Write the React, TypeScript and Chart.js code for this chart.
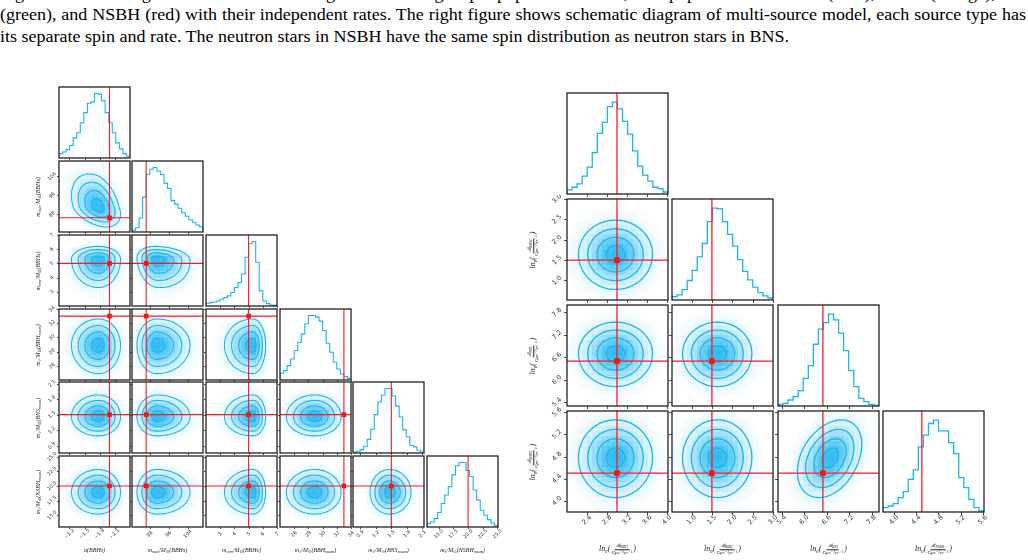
import React, { useEffect, useRef } from "react";
import { Chart, registerables } from "chart.js";
Chart.register(...registerables);

// ================= DATA =================
// Caption lines
const captionLines = [
  "Figure 3: The left figure shows schematic diagram of the single-spin population model, with populations of BBH1 (blue), BBH2 (orange), BNS",
  "(green), and NSBH (red) with their independent rates. The right figure shows schematic diagram of multi-source model, each source type has",
  "its separate spin and rate. The neutron stars in NSBH have the same spin distribution as neutron stars in BNS.",
];

// ---- Left corner plot (single-spin model) ----
const leftSym = ["α", "m", "m", "m", "m", "m"];
const leftSymSub = ["", "max", "min", "1", "1", "1"];
const leftPop = ["BBHs", "BBHs", "BBHs", "BBH", "BNS", "NSBH"];
const leftPopSub = ["", "", "", "mean", "mean", "mean"];
const leftRanges: [number, number][] = [[-2.41, -0.99], [80.5, 110.5], [2.0, 7.0], [24.0, 34.0], [0.76, 2.13], [13.0, 25.1]];
const leftReverse = [true, false, false, false, false, false];
const leftTicks = [[-1.2, -1.5, -1.8, -2.1], [88, 96, 104], [3, 4, 5, 6, 7], [26, 28, 30, 32, 34], [0.9, 1.2, 1.5, 1.8, 2.1], [15, 17.5, 20, 22.5, 25]];
const leftTickText = [["−1.2", "−1.5", "−1.8", "−2.1"], ["88", "96", "104"], ["3", "4", "5", "6", "7"], ["26", "28", "30", "32", "34"], ["0.9", "1.2", "1.5", "1.8", "2.1"], ["15.0", "17.5", "20.0", "22.5", "25.0"]];
const leftTruth = [-2.0, 86.5, 5.0, 33.0, 1.5, 20.0];
// histogram bin counts (20 bins across each axis range, ascending value order)
const histAlpha = [5, 13, 27, 45, 75, 105, 135, 170, 190, 192, 167, 163, 135, 105, 75, 60, 37, 25, 18, 13];
const histMmax = [5, 12, 40, 100, 165, 180, 185, 175, 165, 140, 125, 90, 80, 68, 55, 45, 35, 28, 20, 15];
const histMmin = [8, 10, 12, 15, 20, 25, 30, 40, 55, 70, 95, 145, 185, 192, 130, 45, 15, 7, 3, 2];
const histM1BBH = [20, 28, 43, 63, 88, 113, 138, 168, 193, 193, 188, 176, 148, 110, 83, 53, 33, 18, 10, 5];
const histM1BNS = [3, 5, 10, 20, 40, 70, 113, 150, 170, 190, 190, 168, 138, 106, 68, 48, 23, 18, 8, 3];
const histM1NSBH = [10, 15, 25, 43, 70, 95, 120, 155, 182, 192, 192, 168, 150, 110, 80, 50, 35, 22, 12, 4];
const leftHists = [histAlpha, histMmax, histMmin, histM1BBH, histM1BNS, histM1NSBH];
// posterior shape summaries (mode, lower / upper width) used for the 2D density & contours
const leftMode = [-1.78, 91.0, 5.3, 28.9, 1.46, 18.9];
const leftSigLo = [0.22, 4.2, 1.0, 2.0, 0.185, 1.85];
const leftSigHi = [0.27, 7.0, 0.45, 1.85, 0.21, 1.95];
const leftCorr: [number, number, number][] = [[1, 0, 0.35], [2, 1, -0.1]];

// ---- Right corner plot (multi-source rates) ----
const rightSub = ["BBH1", "BBH2", "BNS", "NSBH"];
const rightRanges: [number, number][] = [[2.0, 4.02], [0.52, 3.0], [5.3, 8.0], [3.8, 5.62]];
const rightTicks = [[2.4, 2.8, 3.2, 3.6, 4.0], [1.0, 1.5, 2.0, 2.5, 3.0], [5.4, 6.0, 6.6, 7.2, 7.8], [4.0, 4.4, 4.8, 5.2, 5.6]];
const rightTickText = [["2.4", "2.8", "3.2", "3.6", "4.0"], ["1.0", "1.5", "2.0", "2.5", "3.0"], ["5.4", "6.0", "6.6", "7.2", "7.8"], ["4.0", "4.4", "4.8", "5.2", "5.6"]];
const rightTruth = [3.0, 1.5, 6.5, 4.5];
const histR0 = [12, 20, 30, 53, 80, 123, 180, 213, 260, 273, 253, 216, 178, 128, 83, 56, 38, 20, 16, 6];
const histR1 = [10, 15, 31, 58, 88, 128, 168, 233, 273, 271, 233, 195, 160, 120, 85, 60, 38, 22, 12, 6];
const histR2 = [5, 8, 18, 28, 46, 83, 121, 185, 230, 250, 275, 258, 218, 166, 106, 58, 23, 13, 5, 2];
const histR3 = [13, 18, 25, 43, 61, 98, 126, 195, 230, 265, 275, 243, 243, 208, 175, 103, 73, 38, 13, 3];
const rightHists = [histR0, histR1, histR2, histR3];
const rightMode = [2.97, 1.64, 6.7, 4.78];
const rightSigLo = [0.37, 0.43, 0.44, 0.36];
const rightSigHi = [0.37, 0.42, 0.42, 0.34];
const rightCorr: [number, number, number][] = [[3, 2, 0.35]];

const contourLevels = [0.5, 1.0, 1.5, 2.0];

// ================= LAYOUT / STYLE =================
const LEFT_X = [59, 132, 206, 280, 353, 427];
const LEFT_Y = [87, 161, 235, 309, 382, 456];
const LEFT_SIZE = 71;
const RIGHT_X = [567, 672, 778, 883];
const RIGHT_Y = [93, 199, 305, 411];
const RIGHT_SIZE = 101;
const PAD_L = 30, PAD_T = 4, PAD_R = 4, PAD_B = 26;
const RGB = "24,180,240";
const BLUE = `rgb(${RGB})`;
const SERIF = '"Liberation Serif", "DejaVu Serif", serif';
const SANS = '"DejaVu Sans", sans-serif';
const CAPTION_SCALE = 1.125;

type Var = {
  range: [number, number]; reverse: boolean; ticks: number[]; tickText: string[];
  truth: number; hist: number[]; mode: number; lo: number; hi: number;
};
type Style = { lw: number; tick: number; font: number; xOff: number; yOff: number; mr: number; tw: number };
type PanelSpec = {
  key: string; kind: "hist" | "2d"; xv: Var; yv: Var; rho: number;
  left: number; top: number; size: number; showX: boolean; showY: boolean; st: Style;
};

const leftStyle: Style = { lw: 1.1, tick: 2, font: 5, xOff: 7, yOff: 7, mr: 3.2, tw: 1.1 };
const rightStyle: Style = { lw: 1.3, tick: 3, font: 6.5, xOff: 8, yOff: 10, mr: 3.8, tw: 1.3 };

function buildVars(ranges: [number, number][], rev: boolean[] | null, ticks: number[][], tt: string[][], truth: number[], hists: number[][], mode: number[], lo: number[], hi: number[]): Var[] {
  return ranges.map((r, i) => ({
    range: r, reverse: rev ? rev[i] : false, ticks: ticks[i], tickText: tt[i], truth: truth[i],
    hist: hists[i], mode: mode[i], lo: lo[i], hi: hi[i],
  }));
}

const leftVars = buildVars(leftRanges, leftReverse, leftTicks, leftTickText, leftTruth, leftHists, leftMode, leftSigLo, leftSigHi);
const rightVars = buildVars(rightRanges, null, rightTicks, rightTickText, rightTruth, rightHists, rightMode, rightSigLo, rightSigHi);

function buildPanels(name: string, vars: Var[], corr: [number, number, number][], X: number[], Y: number[], size: number, st: Style): PanelSpec[] {
  const n = vars.length;
  const out: PanelSpec[] = [];
  for (let r = 0; r < n; r++) {
    for (let c = 0; c <= r; c++) {
      const cc = corr.find((k) => k[0] === r && k[1] === c);
      out.push({
        key: `${name}-${r}-${c}`, kind: r === c ? "hist" : "2d", xv: vars[c], yv: vars[r],
        rho: cc ? cc[2] : 0, left: X[c], top: Y[r], size, showX: r === n - 1, showY: c === 0 && r > 0, st,
      });
    }
  }
  return out;
}

const panels = [
  ...buildPanels("L", leftVars, leftCorr, LEFT_X, LEFT_Y, LEFT_SIZE, leftStyle),
  ...buildPanels("R", rightVars, rightCorr, RIGHT_X, RIGHT_Y, RIGHT_SIZE, rightStyle),
];

function standardize(v: Var, val: number) {
  const d = val - v.mode;
  return d / (d < 0 ? v.lo : v.hi);
}
function density(p: PanelSpec, x: number, y: number) {
  const zx = standardize(p.xv, x), zy = standardize(p.yv, y);
  const r2 = (zx * zx - 2 * p.rho * zx * zy + zy * zy) / (1 - p.rho * p.rho);
  return Math.exp(-0.5 * r2);
}

function decoPlugin(p: PanelSpec) {
  return {
    id: "cornerDeco",
    beforeDatasetsDraw(chart: any) {
      if (p.kind !== "2d") return;
      const { ctx, chartArea: a } = chart;
      const xs = chart.scales.x, ys = chart.scales.y;
      ctx.save();
      ctx.beginPath();
      ctx.rect(a.left, a.top, a.right - a.left, a.bottom - a.top);
      ctx.clip();
      const N = 20;
      const [x0, x1] = p.xv.range, [y0, y1] = p.yv.range;
      for (let i = 0; i < N; i++) {
        for (let j = 0; j < N; j++) {
          const xa = x0 + ((x1 - x0) * i) / N, xb = x0 + ((x1 - x0) * (i + 1)) / N;
          const ya = y0 + ((y1 - y0) * j) / N, yb = y0 + ((y1 - y0) * (j + 1)) / N;
          const d = density(p, (xa + xb) / 2, (ya + yb) / 2);
          if (d < 0.02) continue;
          const pa = xs.getPixelForValue(xa), pb = xs.getPixelForValue(xb);
          const qa = ys.getPixelForValue(ya), qb = ys.getPixelForValue(yb);
          const L = Math.round(Math.min(pa, pb)), R = Math.round(Math.max(pa, pb));
          const T = Math.round(Math.min(qa, qb)), B = Math.round(Math.max(qa, qb));
          ctx.fillStyle = `rgba(${RGB},${(0.9 * d).toFixed(3)})`;
          ctx.fillRect(L, T, R - L, B - T);
        }
      }
      ctx.strokeStyle = BLUE;
      ctx.lineWidth = p.st.lw;
      const s = Math.sqrt(1 - p.rho * p.rho);
      for (const r of contourLevels) {
        ctx.beginPath();
        const K = 180;
        for (let k = 0; k <= K; k++) {
          const t = (2 * Math.PI * k) / K;
          const u = r * Math.cos(t), v = r * Math.sin(t);
          const zx = u, zy = p.rho * u + s * v;
          const xv = p.xv.mode + zx * (zx < 0 ? p.xv.lo : p.xv.hi);
          const yv = p.yv.mode + zy * (zy < 0 ? p.yv.lo : p.yv.hi);
          const px = xs.getPixelForValue(xv), py = ys.getPixelForValue(yv);
          if (k === 0) ctx.moveTo(px, py);
          else ctx.lineTo(px, py);
        }
        ctx.closePath();
        ctx.stroke();
      }
      ctx.restore();
    },
    afterDatasetsDraw(chart: any) {
      const { ctx, chartArea: a } = chart;
      const xs = chart.scales.x, ys = chart.scales.y;
      ctx.save();
      ctx.strokeStyle = "#ff1a1a";
      ctx.lineWidth = p.st.tw;
      const tx = xs.getPixelForValue(p.xv.truth);
      ctx.beginPath();
      ctx.moveTo(tx, a.top);
      ctx.lineTo(tx, a.bottom);
      ctx.stroke();
      if (p.kind === "2d") {
        const ty = ys.getPixelForValue(p.yv.truth);
        ctx.beginPath();
        ctx.moveTo(a.left, ty);
        ctx.lineTo(a.right, ty);
        ctx.stroke();
      }
      ctx.restore();
    },
    afterDraw(chart: any) {
      const { ctx, chartArea: a } = chart;
      const xs = chart.scales.x, ys = chart.scales.y;
      const st = p.st;
      ctx.save();
      ctx.strokeStyle = "#222";
      ctx.lineWidth = 1.3;
      ctx.strokeRect(a.left, a.top, a.right - a.left, a.bottom - a.top);
      ctx.lineWidth = 0.9;
      ctx.strokeStyle = "#333";
      p.xv.ticks.forEach((t) => {
        const px = Math.round(xs.getPixelForValue(t)) + 0.5;
        ctx.beginPath();
        ctx.moveTo(px, a.bottom);
        ctx.lineTo(px, a.bottom + st.tick);
        ctx.stroke();
      });
      if (p.kind === "2d") {
        p.yv.ticks.forEach((t) => {
          const py = Math.round(ys.getPixelForValue(t)) + 0.5;
          ctx.beginPath();
          ctx.moveTo(a.left - st.tick, py);
          ctx.lineTo(a.left, py);
          ctx.stroke();
        });
      }
      ctx.fillStyle = "#333";
      ctx.font = `${st.font}px ${SANS}`;
      ctx.textAlign = "center";
      ctx.textBaseline = "middle";
      if (p.showX) {
        p.xv.ticks.forEach((t, i) => {
          const px = xs.getPixelForValue(t);
          ctx.save();
          ctx.translate(px, a.bottom + st.xOff);
          ctx.rotate(-Math.PI / 4);
          ctx.fillText(p.xv.tickText[i], 0, 0);
          ctx.restore();
        });
      }
      if (p.showY) {
        p.yv.ticks.forEach((t, i) => {
          const py = ys.getPixelForValue(t);
          ctx.save();
          ctx.translate(a.left - st.yOff, py);
          ctx.rotate(-Math.PI / 4);
          ctx.fillText(p.yv.tickText[i], 0, 0);
          ctx.restore();
        });
      }
      ctx.restore();
    },
  };
}

function buildConfig(p: PanelSpec): any {
  const datasets: any[] = [];
  let ymin: number, ymax: number;
  if (p.kind === "hist") {
    const [a, b] = p.xv.range;
    const h = p.xv.hist;
    const n = h.length;
    const pts: { x: number; y: number }[] = [{ x: a, y: 0 }];
    h.forEach((c, i) => pts.push({ x: a + ((b - a) * i) / n, y: c }));
    pts.push({ x: b, y: h[n - 1] });
    pts.push({ x: b, y: 0 });
    datasets.push({
      type: "line", data: pts, stepped: "before", borderColor: BLUE, borderWidth: p.st.lw,
      pointRadius: 0, fill: false, tension: 0,
    });
    ymin = 0;
    ymax = Math.max(...h) * 1.1;
  } else {
    datasets.push({
      type: "scatter", data: [{ x: p.xv.truth, y: p.yv.truth }], pointStyle: "rect",
      pointRadius: p.st.mr, backgroundColor: "#ff0000", borderWidth: 0, clip: false,
    });
    ymin = p.yv.range[0];
    ymax = p.yv.range[1];
  }
  return {
    type: "scatter",
    data: { datasets },
    options: {
      animation: false,
      responsive: false,
      maintainAspectRatio: false,
      events: [],
      layout: { padding: { left: PAD_L, top: PAD_T, right: PAD_R, bottom: PAD_B } },
      plugins: { legend: { display: false }, tooltip: { enabled: false } },
      scales: {
        x: { type: "linear", display: false, min: p.xv.range[0], max: p.xv.range[1], reverse: p.xv.reverse },
        y: { type: "linear", display: false, min: ymin, max: ymax },
      },
    },
    plugins: [decoPlugin(p)],
  };
}

function Panel({ p }: { p: PanelSpec }) {
  const ref = useRef<HTMLCanvasElement>(null);
  useEffect(() => {
    const ch = new Chart(ref.current as HTMLCanvasElement, buildConfig(p));
    return () => ch.destroy();
  }, []);
  return (
    <canvas
      ref={ref}
      width={p.size + PAD_L + PAD_R}
      height={p.size + PAD_T + PAD_B}
      style={{ position: "absolute", left: p.left - PAD_L, top: p.top - PAD_T }}
    />
  );
}

const subS: React.CSSProperties = { fontSize: "0.7em", verticalAlign: "-0.3em", lineHeight: 0 };
const supS: React.CSSProperties = { fontSize: "0.7em", verticalAlign: "0.45em", lineHeight: 0 };

function LeftLabel({ i }: { i: number }) {
  return (
    <span style={{ fontFamily: SERIF, fontStyle: "italic", fontSize: 6, whiteSpace: "nowrap", color: "#222" }}>
      {leftSym[i]}
      {leftSymSub[i] ? <span style={subS}>{leftSymSub[i]}</span> : null}
      {i > 0 ? (
        <>
          /<span>M</span>
          <span style={subS}>⊙</span>
        </>
      ) : null}
      ({leftPop[i]}
      {leftPopSub[i] ? <span style={subS}>{leftPopSub[i]}</span> : null})
    </span>
  );
}

function RightLabel({ i }: { i: number }) {
  return (
    <span style={{ display: "inline-flex", alignItems: "center", fontFamily: SERIF, fontStyle: "italic", fontSize: 8, whiteSpace: "nowrap", color: "#222" }}>
      <span>
        ln<span style={subS}>e</span>(
      </span>
      <span style={{ display: "inline-flex", flexDirection: "column", alignItems: "center", fontSize: 5, lineHeight: "6px", margin: "0 1px" }}>
        <span style={{ borderBottom: "0.8px solid #222", padding: "0 1px" }}>
          ℛ<span style={subS}>{rightSub[i]}</span>
        </span>
        <span>
          Gpc<span style={supS}>−3</span>yr<span style={supS}>−1</span>
        </span>
      </span>
      <span>)</span>
    </span>
  );
}

function Centered({ x, y, rot, children }: { x: number; y: number; rot?: boolean; children: React.ReactNode }) {
  return (
    <div
      style={{
        position: "absolute", left: x, top: y, lineHeight: 1,
        transform: `translate(-50%, -50%)${rot ? " rotate(-90deg)" : ""}`,
      }}
    >
      {children}
    </div>
  );
}

export default function App() {
  const captionTops = [-14.3, 7.3, 28.9];
  return (
    <div style={{ position: "absolute", left: 0, top: 0, width: 1028, height: 560, background: "#fff", overflow: "hidden" }}>
      {captionLines.map((t, i) => (
        <div
          key={i}
          style={{
            position: "absolute", left: 0, top: captionTops[i], width: i < 2 ? 1026 / CAPTION_SCALE : "auto",
            fontFamily: SERIF, fontSize: 16, lineHeight: "16px", whiteSpace: "nowrap", color: "#000",
            textAlign: i < 2 ? "justify" : "left", textAlignLast: i < 2 ? "justify" : "left",
            transform: `scaleX(${CAPTION_SCALE})`, transformOrigin: "0 0",
          }}
        >
          {t}
        </div>
      ))}
      {panels.map((p) => (
        <Panel key={p.key} p={p} />
      ))}
      {leftVars.map((_, i) => (
        <Centered key={"lx" + i} x={LEFT_X[i] + LEFT_SIZE / 2} y={547}>
          <LeftLabel i={i} />
        </Centered>
      ))}
      {leftVars.map((_, i) =>
        i > 0 ? (
          <Centered key={"ly" + i} x={35} y={LEFT_Y[i] + LEFT_SIZE / 2} rot>
            <LeftLabel i={i} />
          </Centered>
        ) : null
      )}
      {rightVars.map((_, i) => (
        <Centered key={"rx" + i} x={RIGHT_X[i] + RIGHT_SIZE / 2} y={547}>
          <RightLabel i={i} />
        </Centered>
      ))}
      {rightVars.map((_, i) =>
        i > 0 ? (
          <Centered key={"ry" + i} x={531} y={RIGHT_Y[i] + RIGHT_SIZE / 2} rot>
            <RightLabel i={i} />
          </Centered>
        ) : null
      )}
    </div>
  );
}
